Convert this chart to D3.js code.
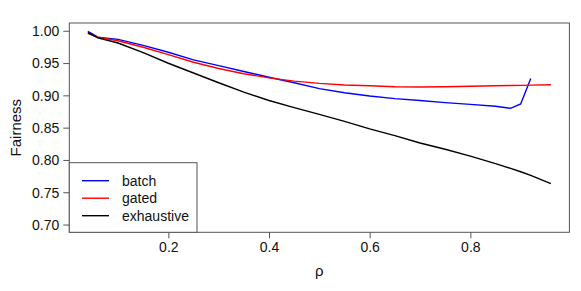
<!DOCTYPE html>
<html>
<head>
<meta charset="utf-8">
<script src="https://cdn.jsdelivr.net/npm/d3@7"></script>
<style>
  body { margin: 0; background: #fff; }
  text { font-family: "Liberation Sans", Arial, sans-serif; fill: #111; }
</style>
</head>
<body>
<svg width="581" height="291"></svg>
<script>
// data
var rho = [0.04, 0.06, 0.10, 0.15, 0.20, 0.25, 0.30, 0.35, 0.40, 0.45, 0.50, 0.55,
           0.60, 0.65, 0.70, 0.75, 0.80, 0.85, 0.88, 0.90, 0.92, 0.96];
var batch = [0.999, 0.990, 0.9866, 0.9773, 0.9667, 0.955, 0.946, 0.937, 0.928, 0.9195, 0.9105, 0.904,
             0.899, 0.895, 0.892, 0.8888, 0.886, 0.8832, 0.880, 0.8866, 0.926, null];
var gated = [0.996, 0.990, 0.9845, 0.9745, 0.963, 0.9513, 0.9415, 0.9335, 0.927, 0.922, 0.9185, 0.916,
             0.9148, 0.9133, 0.913, 0.9134, 0.914, 0.9148, 0.9152, 0.9155, 0.9158, 0.9165];
var exhaustive = [0.997, 0.989, 0.981, 0.966, 0.9497, 0.9346, 0.9195, 0.905, 0.892, 0.881, 0.8706, 0.8596,
                  0.848, 0.8376, 0.8263, 0.8165, 0.806, 0.7942, 0.787, 0.7817, 0.776, 0.7634];
var xTicks = [0.2, 0.4, 0.6, 0.8];
var yTicks = [0.70, 0.75, 0.80, 0.85, 0.90, 0.95, 1.00];

var series = [
  {name: "batch", values: batch, color: "#0000ff"},
  {name: "gated", values: gated, color: "#ff0000"},
  {name: "exhaustive", values: exhaustive, color: "#000000"}
];

var svg = d3.select("svg");
var pLeft = 69.3, pRight = 569.4, pTop = 23, pBottom = 232.3;

var x = d3.scaleLinear().domain([0.0032, 0.9968]).range([pLeft, pRight]);
var y = d3.scaleLinear().domain([0.688, 1.012]).range([pBottom, pTop]);

// axes
svg.append("g")
  .attr("transform", "translate(0," + pBottom + ")")
  .call(d3.axisBottom(x).tickValues(xTicks).tickSize(6).tickPadding(4).tickFormat(d3.format(".1f")))
  .call(function(g) {
    g.select(".domain").remove();
    g.selectAll("line").attr("stroke", "#555");
    g.selectAll("text").style("font-size", "14px").attr("fill", "#111");
  });

svg.append("g")
  .attr("transform", "translate(" + pLeft + ",0)")
  .call(d3.axisLeft(y).tickValues(yTicks).tickSize(6).tickPadding(4).tickFormat(d3.format(".2f")))
  .call(function(g) {
    g.select(".domain").remove();
    g.selectAll("line").attr("stroke", "#555");
    g.selectAll("text").style("font-size", "14px").attr("fill", "#111").attr("dy", "0.35em");
  });

// box
svg.append("rect")
  .attr("x", pLeft).attr("y", pTop)
  .attr("width", pRight - pLeft).attr("height", pBottom - pTop)
  .attr("fill", "none").attr("stroke", "#555").attr("stroke-width", 1);

// axis titles
svg.append("text")
  .attr("x", (pLeft + pRight) / 2).attr("y", 276)
  .attr("text-anchor", "middle")
  .style("font-size", "15px")
  .text("ρ");

svg.append("text")
  .attr("transform", "translate(21," + ((pTop + pBottom) / 2) + ") rotate(-90)")
  .attr("text-anchor", "middle")
  .style("font-size", "15px")
  .text("Fairness");

// lines
var line = d3.line()
  .defined(function(d) { return d[1] != null; })
  .x(function(d) { return x(d[0]); })
  .y(function(d) { return y(d[1]); });

series.forEach(function(s) {
  svg.append("path")
    .datum(rho.map(function(r, i) { return [r, s.values[i]]; }))
    .attr("fill", "none")
    .attr("stroke", s.color)
    .attr("stroke-width", 1.4)
    .attr("d", line);
});

// legend
var lg = svg.append("g");
lg.append("rect")
  .attr("x", pLeft).attr("y", 162.7)
  .attr("width", 197 - pLeft).attr("height", pBottom - 162.7)
  .attr("fill", "#fff").attr("stroke", "#555");

series.forEach(function(s, i) {
  var yy = 180.7 + i * 17.5;
  lg.append("line")
    .attr("x1", 82).attr("x2", 109)
    .attr("y1", yy).attr("y2", yy)
    .attr("stroke", s.color).attr("stroke-width", 1.4);
  lg.append("text")
    .attr("x", 122).attr("y", yy)
    .attr("dy", "0.35em")
    .style("font-size", "14px")
    .text(s.name);
});
</script>
</body>
</html>
